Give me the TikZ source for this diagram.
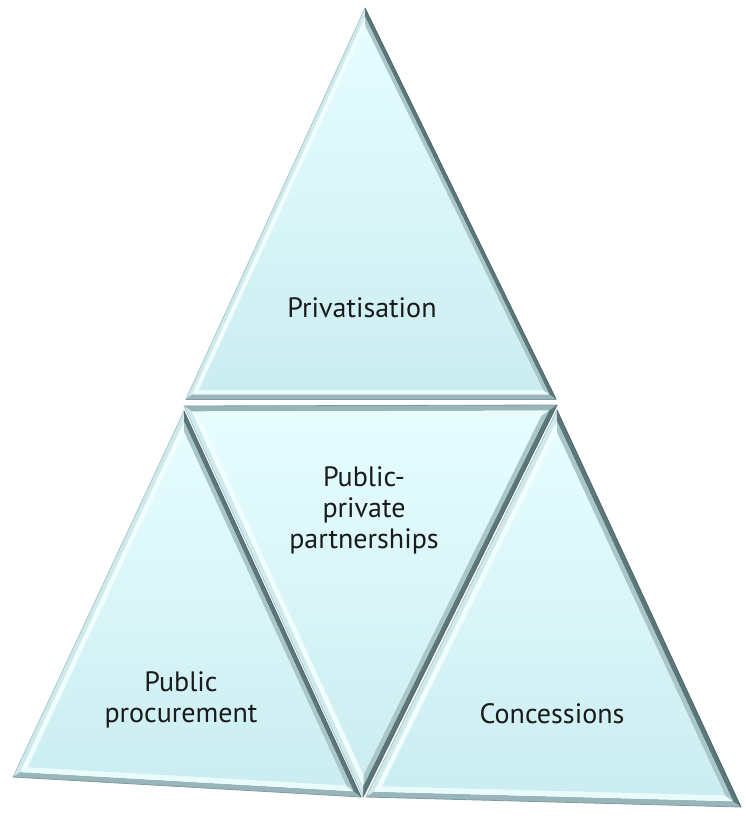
\documentclass[tikz,border=0pt]{standalone}
\usepackage{fontspec}
\setmainfont{PT Sans}
\usetikzlibrary{calc}
\definecolor{faceTop}{HTML}{E6FDFF}
\definecolor{faceBot}{HTML}{CBEDF1}
% bevel colours: outer (o) and inner (i) for Light, Mid, Dark sides
\definecolor{bevLo}{HTML}{CFE9EC}
\definecolor{bevLi}{HTML}{F0FEFF}
\definecolor{bevMo}{HTML}{98B6B9}
\definecolor{bevMi}{HTML}{EAFBFC}
\definecolor{bevDo}{HTML}{5C777A}
\definecolor{bevDi}{HTML}{A9C6C9}
\definecolor{edgeL}{HTML}{A9C9CC}
\definecolor{edgeM}{HTML}{7E9B9E}
\definecolor{edgeD}{HTML}{4F6669}
\definecolor{txt}{HTML}{1A1A1A}
\tikzset{
  face/.style={top color=faceTop, bottom color=faceBot},
  bevel/.style={fill=#1, draw=none},
  edge/.style={draw=#1, line width=0.8pt, line cap=round},
  label/.style={font=\fontsize{28}{31}\selectfont, text=txt, align=center, inner sep=0pt}
}
% #1 #2 #3 vertex names, #4 inset factor, #5 #6 #7 kind (L, M or D) of sides 12, 23, 31
\newcommand\bevtri[7]{%
  \pgfmathsetmacro\kmid{(1+#4)/2}%
  \coordinate (#1#2#3G) at (barycentric cs:#1=1,#2=1,#3=1);
  \coordinate (#1i) at ($(#1#2#3G)!#4!(#1)$);
  \coordinate (#2i) at ($(#1#2#3G)!#4!(#2)$);
  \coordinate (#3i) at ($(#1#2#3G)!#4!(#3)$);
  \coordinate (#1m) at ($(#1#2#3G)!\kmid!(#1)$);
  \coordinate (#2m) at ($(#1#2#3G)!\kmid!(#2)$);
  \coordinate (#3m) at ($(#1#2#3G)!\kmid!(#3)$);
  \fill[bevel=bev#5o] (#1) -- (#2) -- (#2m) -- (#1m) -- cycle;
  \fill[bevel=bev#5i] (#1m) -- (#2m) -- (#2i) -- (#1i) -- cycle;
  \fill[bevel=bev#6o] (#2) -- (#3) -- (#3m) -- (#2m) -- cycle;
  \fill[bevel=bev#6i] (#2m) -- (#3m) -- (#3i) -- (#2i) -- cycle;
  \fill[bevel=bev#7o] (#3) -- (#1) -- (#1m) -- (#3m) -- cycle;
  \fill[bevel=bev#7i] (#3m) -- (#1m) -- (#1i) -- (#3i) -- cycle;
  \draw[edge=edge#5] (#1) -- (#2);
  \draw[edge=edge#6] (#2) -- (#3);
  \draw[edge=edge#7] (#3) -- (#1);
  \path[face] (#1i) -- (#2i) -- (#3i) -- cycle;
}
\begin{document}
\begin{tikzpicture}[x=1pt,y=-1pt]
\useasboundingbox (0,0) rectangle (745,819);
\fill[white] (0,0) rectangle (745,819);
% vertices
\coordinate (PA) at (365,8);
\coordinate (PB) at (186,399);
\coordinate (PC) at (556,399);
\coordinate (MA) at (184,406);
\coordinate (MB) at (557,405);
\coordinate (MC) at (363,797);
\coordinate (LA) at (184,411);
\coordinate (LB) at (13,777);
\coordinate (LC) at (361,797);
\coordinate (RA) at (557,410);
\coordinate (RB) at (366,797);
\coordinate (RC) at (741,807);
% triangles
\bevtri{PA}{PB}{PC}{0.93}{L}{M}{D}
\bevtri{LA}{LB}{LC}{0.915}{L}{M}{D}
\bevtri{RA}{RB}{RC}{0.915}{L}{M}{D}
\bevtri{MA}{MB}{MC}{0.915}{M}{D}{L}
% labels
\node[label, anchor=base] (priv) at (362,317) {Privatisation};
\node[label] (ppp) at (364,510) {Public-\\private\\partnerships};
\node[label] (proc) at (181,700) {Public\\procurement};
\node[label, anchor=base] (conc) at (552,723) {Concessions};
\end{tikzpicture}
\end{document}
